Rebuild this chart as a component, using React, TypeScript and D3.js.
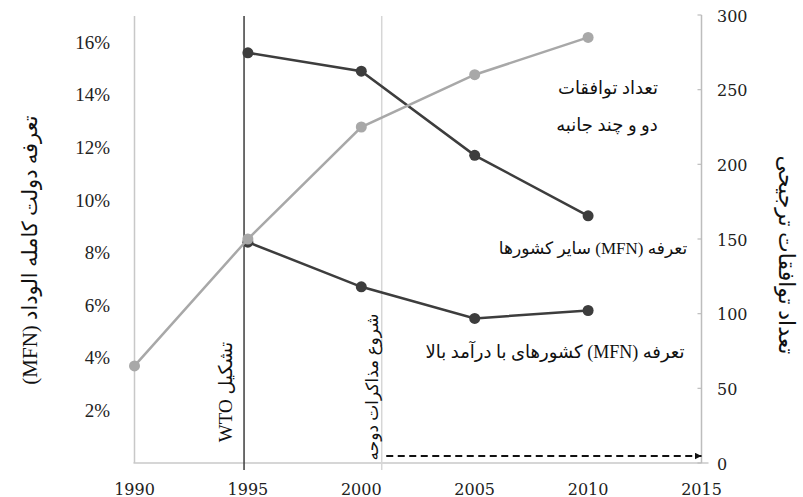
import React from "react";
import * as d3 from "d3";

const years = [1990, 1995, 2000, 2005, 2010];
const agreements = [65, 150, 225, 260, 285];
const mfnOther: (number | null)[] = [null, 15.6, 14.9, 11.7, 9.4];
const mfnHigh: (number | null)[] = [null, 8.4, 6.7, 5.5, 5.8];

const xTicks = [1990, 1995, 2000, 2005, 2010, 2015];
const leftTicks = [2, 4, 6, 8, 10, 12, 14, 16];
const rightTicks = [0, 50, 100, 150, 200, 250, 300];

const wtoYear = 1994.83;
const dohaYear = 2000.9;
const arrowStart = 2001.1;
const arrowEnd = 2015;

const leftTitle = "تعرفه دولت کامله الوداد (MFN)";
const rightTitle = "تعداد توافقات ترجیحی";
const agreeLabel1 = "تعداد توافقات";
const agreeLabel2 = "دو و چند جانبه";
const otherLabel = "تعرفه (MFN) سایر کشورها";
const highLabel = "تعرفه (MFN) کشورهای با درآمد بالا";
const wtoLabel = "تشکیل WTO";
const dohaLabel = "شروع مذاکرات دوحه";

const W = 803;
const H = 497;
const left = 134.5;
const right = 701.5;
const bottom = 463;
const top = 15;

const PF = "'Liberation Serif', 'DejaVu Sans', serif";
const NUMF = "'DejaVu Serif', serif";

export default function App() {
  const x = d3.scaleLinear().domain([1990, 2015]).range([left, right]);
  const yL = d3.scaleLinear().domain([0, 17]).range([bottom, 16]);
  const yR = d3.scaleLinear().domain([0, 300]).range([bottom, top]);

  const gray = "#a8a8a8";
  const dark = "#3d3d3d";

  const mk = (vals: (number | null)[]) =>
    years
      .map((yr, i) => ({ yr, v: vals[i] }))
      .filter((d) => d.v !== null) as { yr: number; v: number }[];

  const otherPts = mk(mfnOther);
  const highPts = mk(mfnHigh);
  const agrPts = mk(agreements);

  const lineL = d3
    .line<{ yr: number; v: number }>()
    .x((d) => x(d.yr))
    .y((d) => yL(d.v));
  const lineR = d3
    .line<{ yr: number; v: number }>()
    .x((d) => x(d.yr))
    .y((d) => yR(d.v));

  const arrowY = bottom - 7;

  return (
    <svg
      width={W}
      height={H}
      style={{ position: "absolute", left: 0, top: 0, background: "#fff" }}
    >
      <defs>
        <marker
          id="arr"
          viewBox="0 0 10 10"
          refX="10"
          refY="5"
          markerWidth="7"
          markerHeight="7"
          orient="auto"
          markerUnits="userSpaceOnUse"
        >
          <path d="M0,0 L10,5 L0,10 z" fill="#111" />
        </marker>
      </defs>

      {/* axes lines */}
      <line x1={left} x2={left} y1={16} y2={bottom} stroke="#c8c8c8" strokeWidth={1.5} />
      <line x1={left - 1} x2={right + 7} y1={bottom} y2={bottom} stroke="#c8c8c8" strokeWidth={1.5} />
      <line x1={right} x2={right} y1={top} y2={bottom} stroke="#bdbdbd" strokeWidth={1.5} />
      {rightTicks.map((t) => (
        <line key={t} x1={right - 4} x2={right} y1={yR(t)} y2={yR(t)} stroke="#bdbdbd" strokeWidth={1.2} />
      ))}

      {/* event lines */}
      <line x1={x(dohaYear)} x2={x(dohaYear)} y1={16} y2={bottom + 7} stroke="#d6d6d6" strokeWidth={1.5} />
      <line x1={x(wtoYear)} x2={x(wtoYear)} y1={16} y2={bottom + 7} stroke="#3d3d3d" strokeWidth={1.5} />

      {/* dashed arrow */}
      <line
        x1={x(arrowStart)}
        x2={x(arrowEnd)}
        y1={arrowY}
        y2={arrowY}
        stroke="#111"
        strokeWidth={1.8}
        strokeDasharray="7,4.5"
        markerEnd="url(#arr)"
      />

      {/* left tick labels */}
      {leftTicks.map((t) => (
        <text
          key={t}
          x={110}
          y={yL(t)}
          textAnchor="end"
          dominantBaseline="central"
          fontFamily="'Liberation Serif', serif"
          fontSize={19}
          fill="#222"
        >
          {t}%
        </text>
      ))}

      {/* right tick labels */}
      {rightTicks.map((t) => (
        <text
          key={t}
          x={717}
          y={yR(t) + 1}
          textAnchor="start"
          dominantBaseline="central"
          fontFamily={NUMF}
          fontSize={16}
          fill="#222"
        >
          {t}
        </text>
      ))}

      {/* x tick labels */}
      {xTicks.map((t) => (
        <text
          key={t}
          x={x(t)}
          y={489}
          textAnchor="middle"
          dominantBaseline="central"
          fontFamily={NUMF}
          fontSize={16}
          fill="#222"
        >
          {t}
        </text>
      ))}

      {/* lines */}
      <path d={lineL(otherPts) || ""} fill="none" stroke={dark} strokeWidth={2.5} />
      <path d={lineL(highPts) || ""} fill="none" stroke={dark} strokeWidth={2.5} />
      {otherPts.map((d) => (
        <circle key={"o" + d.yr} cx={x(d.yr)} cy={yL(d.v)} r={5.5} fill={dark} />
      ))}
      {highPts.map((d) => (
        <circle key={"h" + d.yr} cx={x(d.yr)} cy={yL(d.v)} r={5.5} fill={dark} />
      ))}
      <path d={lineR(agrPts) || ""} fill="none" stroke={gray} strokeWidth={2.5} />
      {agrPts.map((d) => (
        <circle key={"a" + d.yr} cx={x(d.yr)} cy={yR(d.v)} r={5.5} fill={gray} />
      ))}

      {/* annotations */}
      <g fontFamily={PF} fontSize={18} fill="#111" direction="rtl">
        <text x={608} y={88} textAnchor="middle" dominantBaseline="central" direction="rtl">
          {agreeLabel1}
        </text>
        <text x={607} y={125} textAnchor="middle" dominantBaseline="central" direction="rtl">
          {agreeLabel2}
        </text>
        <text x={593} y={248} textAnchor="middle" dominantBaseline="central" direction="rtl" fontSize={17}>
          {otherLabel}
        </text>
        <text x={555} y={352} textAnchor="middle" dominantBaseline="central" direction="rtl">
          {highLabel}
        </text>
        <text
          transform={`translate(225,392) rotate(-90)`}
          textAnchor="middle"
          dominantBaseline="central"
          direction="rtl"
          fontSize={19}
        >
          {wtoLabel}
        </text>
        <text
          transform={`translate(372,387) rotate(-90)`}
          textAnchor="middle"
          dominantBaseline="central"
          direction="rtl"
          fontSize={17}
        >
          {dohaLabel}
        </text>
        <text
          transform={`translate(30,250) rotate(-90)`}
          textAnchor="middle"
          dominantBaseline="central"
          direction="rtl"
          fontSize={21}
        >
          {leftTitle}
        </text>
        <text
          transform={`translate(786,255) rotate(90)`}
          textAnchor="middle"
          dominantBaseline="central"
          direction="rtl"
          fontSize={22}
        >
          {rightTitle}
        </text>
      </g>
    </svg>
  );
}
